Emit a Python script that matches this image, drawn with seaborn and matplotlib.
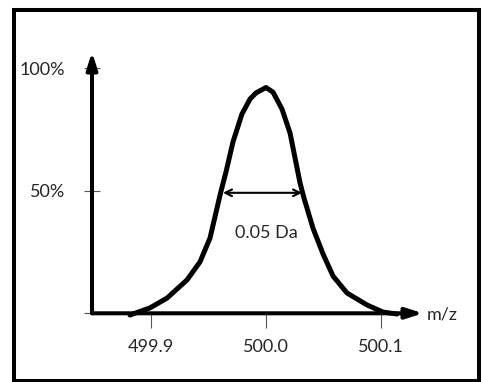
import matplotlib
matplotlib.use('Agg')
import matplotlib.pyplot as plt
from matplotlib.patches import Rectangle
import seaborn as sns
import pandas as pd

# peak profile (m/z, intensity in %)
mz = [499.8817, 499.8991, 499.9139, 499.9313, 499.9426, 499.9513, 499.9604,
      499.9652, 499.9713, 499.9791, 499.9861, 499.9913, 500.0000, 500.0061,
      500.0139, 500.0209, 500.0296, 500.0330, 500.0409, 500.0496, 500.0583,
      500.0704, 500.0878, 500.1017, 500.1139]
intensity = [-0.7, 2.2, 6.2, 13.6, 21.0, 30.7, 49.0,
             57.7, 70.0, 81.4, 87.5, 90.0, 92.2, 90.3,
             83.4, 73.6, 53.2, 47.1, 34.7, 24.2, 15.2,
             8.3, 3.4, 0.5, -0.3]

x_ticks = [499.9, 500.0, 500.1]
x_labels = ['499.9', '500.0', '500.1']
y_ticks = [0, 50, 100]
y_labels = ['', '50%', '100%']

fwhm_left, fwhm_right, fwhm_y = 499.9626, 500.0313, 49.2
fwhm_text = '0.05 Da'

df = pd.DataFrame({'mz': mz, 'intensity': intensity})

sns.set_style('white')
plt.rcParams['font.family'] = ['Lato', 'DejaVu Sans']

fig = plt.figure(figsize=(4.83, 3.82), dpi=100)
ax = fig.add_axes([92 / 483, (382 - 313.3) / 382, 331 / 483, 261.3 / 382])

sns.lineplot(data=df, x='mz', y='intensity', color='black', linewidth=3.6,
             sort=False, clip_on=False, ax=ax)
ax.lines[0].set_solid_joinstyle('round')

ax.set_xlim(499.8487, 500.1365)
ax.set_ylim(0, 106.7)

for s in ax.spines.values():
    s.set_visible(False)

# axes with arrowheads
arrow = dict(arrowstyle='-|>,head_length=1.0,head_width=0.32', color='black',
             lw=2.9, mutation_scale=10, shrinkA=0, shrinkB=0)
ax.annotate('', xy=(1, 0), xytext=(0, 0), xycoords='axes fraction',
            textcoords='axes fraction', arrowprops=arrow, annotation_clip=False)
ax.annotate('', xy=(0, 1), xytext=(0, 0), xycoords='axes fraction',
            textcoords='axes fraction', arrowprops=arrow, annotation_clip=False)

ax.set_xticks(x_ticks, x_labels)
ax.set_yticks(y_ticks, y_labels)
ax.tick_params(axis='x', direction='out', length=11, width=0.8, color='#555555',
               pad=7.5, labelsize=13, bottom=True)
ax.tick_params(axis='y', direction='inout', length=11, width=0.8, color='#555555',
               pad=13.8, labelsize=13, left=True)
ax.set_xlabel('')
ax.set_ylabel('')

# width at half height
ax.annotate('', xy=(fwhm_right, fwhm_y), xytext=(fwhm_left, fwhm_y),
            arrowprops=dict(arrowstyle='<->', color='black', lw=1.5,
                            shrinkA=0, shrinkB=0, mutation_scale=12))
ax.text(500.0, 32.8, fwhm_text, ha='center', va='center', fontsize=13)
ax.text(500.140, -0.5, 'm/z', ha='left', va='center', fontsize=13, clip_on=False)

fig.patches.append(Rectangle((13.5 / 483, 1.5 / 382), 465.5 / 483, 371 / 382,
                             transform=fig.transFigure, fill=False,
                             edgecolor='black', linewidth=2.9))

fig.savefig('out.png', dpi=100)
plt.close(fig)
